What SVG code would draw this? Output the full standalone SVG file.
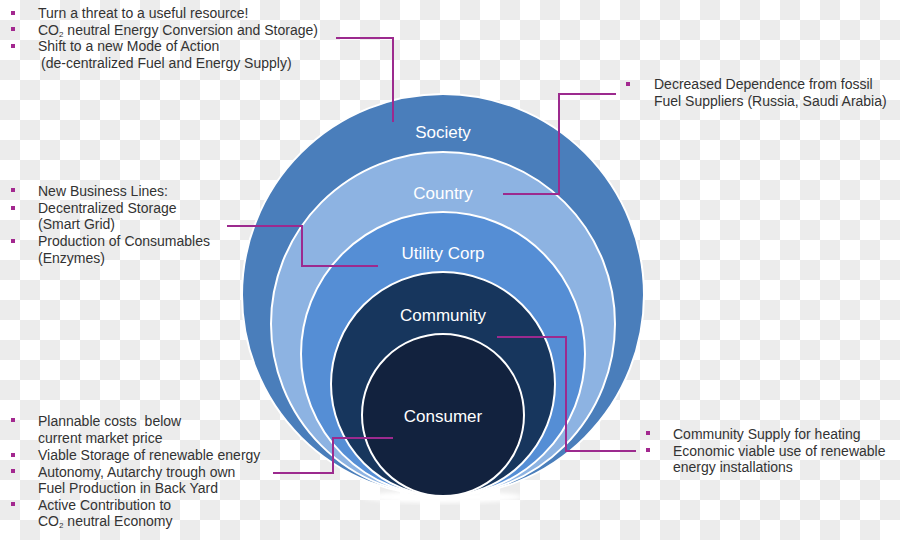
<svg xmlns="http://www.w3.org/2000/svg" width="900" height="540" viewBox="0 0 900 540">
<defs>
<pattern id="chk" width="40" height="40" patternUnits="userSpaceOnUse">
<rect width="40" height="40" fill="#ffffff"/>
<rect x="20" y="0" width="20" height="20" fill="#ececec"/>
<rect x="0" y="20" width="20" height="20" fill="#ececec"/>
</pattern>
<filter id="glow" x="-10%" y="-10%" width="120%" height="120%">
<feGaussianBlur stdDeviation="2"/>
</filter>
</defs>
<style>
.t{font-family:"Liberation Sans",Arial,sans-serif;font-size:14px;fill:#333333}
.lbl{font-family:"Liberation Sans",Arial,sans-serif;font-size:17px;fill:#ffffff;text-anchor:middle}
.b{fill:#a3288f}
.ring{stroke:#ffffff;stroke-width:2}
.con{fill:none;stroke:#9c2a8e;stroke-width:2}
</style>
<rect width="900" height="540" fill="url(#chk)"/>
<ellipse cx="443" cy="497" rx="80" ry="6" fill="#ffffff" filter="url(#glow)"/>
<g id="society"><circle class="ring" cx="443" cy="295" r="201" fill="#4a7ebb"/><text class="lbl" x="443" y="138">Society</text></g>
<g id="country"><circle class="ring" cx="443" cy="324" r="172" fill="#8db3e2"/><text class="lbl" x="443" y="199">Country</text></g>
<g id="utility"><circle class="ring" cx="443" cy="354" r="142" fill="#558ed5"/><text class="lbl" x="443" y="259">Utility Corp</text></g>
<g id="community"><circle class="ring" cx="443" cy="384" r="112" fill="#17365d"/><text class="lbl" x="443" y="321">Community</text></g>
<g id="consumer"><circle class="ring" cx="443" cy="415" r="81" fill="#12223e"/><text class="lbl" x="443" y="422">Consumer</text></g>
<g id="connectors">
<polyline class="con" points="336,38 393,38 393,122"/>
<polyline class="con" points="616,94 559,94 559,194 503,194"/>
<polyline class="con" points="227,226 302,226 302,266 378,266"/>
<polyline class="con" points="273,473 333,473 333,438 393,438"/>
<polyline class="con" points="497,337 566,337 566,451 636,451"/>
</g>
<g id="note-society">
<rect class="b" x="11" y="11" width="4" height="4"/>
<rect class="b" x="11" y="27" width="4" height="4"/>
<rect class="b" x="11" y="44" width="4" height="4"/>
<text class="t" x="38" y="18">Turn a threat to a useful resource!</text>
<text class="t" x="38" y="35">CO<tspan font-size="8" dy="2">2</tspan><tspan dy="-2"> neutral Energy Conversion and Storage)</tspan></text>
<text class="t" x="38" y="51">Shift to a new Mode of Action</text>
<text class="t" x="41" y="68">(de-centralized Fuel and Energy Supply)</text>
</g>
<g id="note-country">
<rect class="b" x="626" y="82" width="4" height="4"/>
<text class="t" x="654" y="89">Decreased Dependence from fossil</text>
<text class="t" x="654" y="106">Fuel Suppliers (Russia, Saudi Arabia)</text>
</g>
<g id="note-utility">
<rect class="b" x="11" y="188" width="4" height="4"/>
<rect class="b" x="11" y="206" width="4" height="4"/>
<rect class="b" x="11" y="239" width="4" height="4"/>
<text class="t" x="38" y="196">New Business Lines:</text>
<text class="t" x="38" y="213">Decentralized Storage</text>
<text class="t" x="38" y="229">(Smart Grid)</text>
<text class="t" x="38" y="246">Production of Consumables</text>
<text class="t" x="38" y="263">(Enzymes)</text>
</g>
<g id="note-consumer">
<rect class="b" x="11" y="418" width="4" height="4"/>
<rect class="b" x="11" y="453" width="4" height="4"/>
<rect class="b" x="11" y="469" width="4" height="4"/>
<rect class="b" x="11" y="502" width="4" height="4"/>
<text class="t" x="38" y="426">Plannable costs&#160; below</text>
<text class="t" x="38" y="443">current market price</text>
<text class="t" x="38" y="460">Viable Storage of renewable energy</text>
<text class="t" x="38" y="477">Autonomy, Autarchy trough own</text>
<text class="t" x="38" y="493">Fuel Production in Back Yard</text>
<text class="t" x="38" y="510">Active Contribution to</text>
<text class="t" x="38" y="526">CO<tspan font-size="8" dy="2">2</tspan><tspan dy="-2"> neutral Economy</tspan></text>
</g>
<g id="note-community">
<rect class="b" x="646" y="431" width="4" height="4"/>
<rect class="b" x="646" y="448" width="4" height="4"/>
<text class="t" x="673" y="439">Community Supply for heating</text>
<text class="t" x="673" y="456">Economic viable use of renewable</text>
<text class="t" x="673" y="472">energy installations</text>
</g>
</svg>
